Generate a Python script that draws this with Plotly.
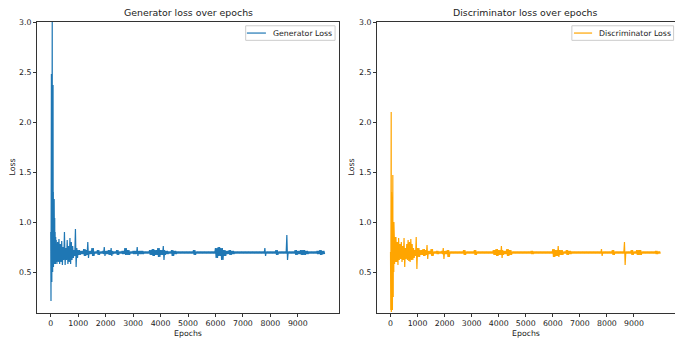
import plotly.graph_objects as go

# ---------------- data ----------------
epochs_total = 10000

# Generator: early detailed values (epochs 0-195)
gen_early_epochs = [0, 5, 10, 15, 20, 25, 30, 35, 40, 45, 50, 55, 60, 65, 70, 75, 80, 85, 90, 95,
                    100, 105, 110, 115, 120, 125, 130, 135, 140, 145, 150, 160, 170, 180, 190]
gen_early_vals = [0.90, 2.48, 0.21, 1.60, 0.50, 2.48, 0.60, 1.80, 0.40, 2.00, 0.55, 3.10, 0.60, 2.20,
                  0.50, 1.50, 0.55, 2.37, 0.60, 1.30, 0.55, 1.25, 0.60, 1.10, 0.60, 1.23, 0.62, 0.95,
                  0.58, 1.04, 0.60, 0.90, 0.58, 0.85, 0.60]
# Generator: noise envelope per segment (segment start epoch, upper, lower)
gen_seg_start = [200, 250, 300, 350, 400, 450, 500, 550, 600, 650, 700, 750, 800, 850, 900, 950,
                 1000, 1100, 1200, 1300, 1350, 1400, 1500, 1600, 1700, 1800, 1900, 1950, 2000, 2100,
                 2200, 2250, 2300, 2400, 2500, 2600, 2700, 2800, 2900, 3000, 3100, 3150, 3200, 3400,
                 3600, 3700, 3800, 3900, 4000, 4100, 4150, 4200, 4300, 4400, 4500, 4600, 5200, 5300,
                 6000, 6100, 6200, 6300, 6400, 6500, 6600, 6700, 7800, 7850, 8200, 8300, 8600, 8650,
                 8900, 9000, 9100, 9200, 9300, 9400, 9700, 9800, 9900]
gen_seg_hi = [0.82, 0.80, 0.83, 0.78, 0.81, 0.75, 0.90, 0.74, 0.82, 0.76, 0.84, 0.80, 0.76, 0.72, 0.93, 0.74,
              0.72, 0.71, 0.73, 0.72, 0.80, 0.71, 0.74, 0.705, 0.72, 0.705, 0.71, 0.75, 0.71, 0.72,
              0.74, 0.71, 0.705, 0.72, 0.705, 0.71, 0.74, 0.72, 0.705, 0.71, 0.71, 0.75, 0.71, 0.705,
              0.72, 0.73, 0.72, 0.74, 0.72, 0.76, 0.72, 0.71, 0.705, 0.72, 0.71, 0.705, 0.72, 0.705,
              0.74, 0.75, 0.74, 0.72, 0.71, 0.72, 0.71, 0.705, 0.74, 0.705, 0.72, 0.705, 0.87, 0.705,
              0.72, 0.71, 0.72, 0.72, 0.71, 0.705, 0.71, 0.72, 0.71]
gen_seg_lo = [0.58, 0.60, 0.58, 0.60, 0.57, 0.62, 0.57, 0.62, 0.58, 0.60, 0.58, 0.62, 0.64, 0.66, 0.55, 0.64,
              0.67, 0.68, 0.66, 0.67, 0.64, 0.68, 0.66, 0.684, 0.67, 0.684, 0.68, 0.66, 0.68, 0.67,
              0.66, 0.68, 0.684, 0.67, 0.684, 0.68, 0.67, 0.67, 0.684, 0.68, 0.68, 0.66, 0.68, 0.684,
              0.67, 0.66, 0.67, 0.65, 0.67, 0.62, 0.67, 0.68, 0.684, 0.66, 0.68, 0.684, 0.67, 0.684,
              0.64, 0.66, 0.62, 0.66, 0.68, 0.67, 0.68, 0.684, 0.66, 0.684, 0.67, 0.684, 0.62, 0.684,
              0.67, 0.68, 0.67, 0.67, 0.68, 0.684, 0.68, 0.67, 0.68]

# Discriminator: early detailed values (epochs 0-195)
disc_early_epochs = [0, 5, 10, 15, 20, 25, 30, 35, 40, 45, 50, 55, 60, 65, 70, 75, 80, 85, 90, 95,
                     100, 105, 110, 115, 120, 125, 130, 135, 140, 145, 150, 160, 170, 180, 190]
disc_early_vals = [0.70, 1.78, 0.12, 1.20, 0.15, 2.10, 0.10, 1.30, 0.12, 1.00, 0.10, 0.90, 0.15, 1.10,
                   0.12, 1.00, 0.20, 1.47, 0.30, 0.95, 0.25, 1.00, 0.40, 0.85, 0.50, 1.00, 0.50, 0.85,
                   0.55, 0.80, 0.58, 0.85, 0.60, 0.80, 0.60]
disc_seg_start = [200, 250, 300, 350, 400, 450, 500, 550, 600, 650, 700, 750, 800, 850, 900, 950,
                  1000, 1100, 1200, 1300, 1350, 1400, 1500, 1600, 1700, 1800, 1900, 1950, 2000, 2100,
                  2200, 2700, 2800, 3100, 3200, 3800, 3900, 4000, 4100, 4150, 4200, 4300, 4400, 4500,
                  5200, 5300, 6000, 6100, 6200, 6250, 6300, 6400, 6500, 6600, 6700, 7800, 7850, 8200,
                  8300, 8650, 8700, 8900, 9000, 9100, 9300, 9800, 9900]
disc_seg_hi = [0.85, 0.80, 0.84, 0.78, 0.80, 0.76, 0.84, 0.74, 0.78, 0.82, 0.80, 0.83, 0.78, 0.74, 0.72, 0.85,
               0.74, 0.72, 0.73, 0.72, 0.77, 0.71, 0.73, 0.705, 0.71, 0.705, 0.71, 0.74, 0.71, 0.72,
               0.705, 0.72, 0.705, 0.72, 0.705, 0.72, 0.73, 0.72, 0.76, 0.72, 0.71, 0.73, 0.72, 0.705,
               0.71, 0.705, 0.73, 0.72, 0.76, 0.72, 0.72, 0.705, 0.72, 0.71, 0.705, 0.73, 0.705, 0.72,
               0.705, 0.80, 0.705, 0.72, 0.705, 0.72, 0.705, 0.71, 0.705]
disc_seg_lo = [0.60, 0.57, 0.62, 0.63, 0.60, 0.62, 0.55, 0.63, 0.62, 0.61, 0.60, 0.62, 0.62, 0.64, 0.66, 0.53,
               0.65, 0.67, 0.66, 0.67, 0.63, 0.68, 0.66, 0.684, 0.68, 0.684, 0.68, 0.63, 0.68, 0.65,
               0.684, 0.67, 0.684, 0.67, 0.684, 0.67, 0.66, 0.67, 0.64, 0.67, 0.68, 0.66, 0.67, 0.684,
               0.68, 0.684, 0.65, 0.66, 0.65, 0.67, 0.67, 0.684, 0.67, 0.68, 0.684, 0.66, 0.684, 0.67,
               0.684, 0.57, 0.684, 0.67, 0.684, 0.67, 0.684, 0.68, 0.684]

x_tick_vals = [0, 1000, 2000, 3000, 4000, 5000, 6000, 7000, 8000, 9000]
y_tick_vals = [0.5, 1.0, 1.5, 2.0, 2.5, 3.0]
y_tick_text = ["0.5", "1.0", "1.5", "2.0", "2.5", "3.0"]


def build_series(early_ep, early_val, seg_start, seg_hi, seg_lo, end, step=25):
    xs = list(early_ep)
    ys = list(early_val)
    for i, s in enumerate(seg_start):
        e = seg_start[i + 1] if i + 1 < len(seg_start) else end
        t, k = s, 0
        while t < e:
            xs.append(t)
            ys.append(seg_hi[i] if k % 2 == 0 else seg_lo[i])
            t += step
            k += 1
    return xs, ys


gx, gy = build_series(gen_early_epochs, gen_early_vals, gen_seg_start, gen_seg_hi, gen_seg_lo, epochs_total)
dx, dy = build_series(disc_early_epochs, disc_early_vals, disc_seg_start, disc_seg_hi, disc_seg_lo, epochs_total)

# ---------------- figure ----------------
W, H = 675, 339
FONT = "DejaVu Sans"
TXT = "#222222"
GEN_C = "#1f77b4"
DIS_C = "#ffa500"
TICK_FS = 7.8
TITLE_FS = 9.4
LW = 1.2

fig = go.Figure()
fig.add_trace(go.Scatter(x=gx, y=gy, mode="lines", line=dict(color=GEN_C, width=LW),
                         xaxis="x", yaxis="y", showlegend=False, hoverinfo="skip"))
fig.add_trace(go.Scatter(x=dx, y=dy, mode="lines", line=dict(color=DIS_C, width=LW),
                         xaxis="x2", yaxis="y2", showlegend=False, hoverinfo="skip"))

ydom = [(H - 313) / H, (H - 22) / H]
xdom1 = [37 / W, 339 / W]
xdom2 = [377 / W, 674.5 / W]

axis_common = dict(showline=True, mirror=True, linecolor="#333333", linewidth=1,
                   ticks="outside", ticklen=3, tickwidth=0.8, tickcolor="#333333",
                   showgrid=False, zeroline=False, automargin=False,
                   tickfont=dict(family=FONT, size=TICK_FS, color=TXT))

xr = [-500, 10500]
yr = [0.09, 3.0]

fig.update_layout(
    width=W, height=H,
    margin=dict(l=0, r=0, t=0, b=0),
    paper_bgcolor="white", plot_bgcolor="white",
    showlegend=False,
    xaxis=dict(domain=xdom1, range=xr, tickvals=x_tick_vals, anchor="y", **axis_common),
    yaxis=dict(domain=ydom, range=yr, tickvals=y_tick_vals, ticktext=y_tick_text, anchor="x", **axis_common),
    xaxis2=dict(domain=xdom2, range=xr, tickvals=x_tick_vals, anchor="y2", **axis_common),
    yaxis2=dict(domain=ydom, range=yr, tickvals=y_tick_vals, ticktext=y_tick_text, anchor="x2", **axis_common),
)

annotations = []
shapes = []
panels = [
    ("x", "y", xdom1, "Generator loss over epochs", "Generator Loss", GEN_C,
     (0.691, 0.987), (0.695, 0.758), 0.775, 12),
    ("x2", "y2", xdom2, "Discriminator loss over epochs", "Discriminator Loss", DIS_C,
     (0.655, 0.997), (0.662, 0.723), 0.738, 351),
]
for xa, ya, dom, title, label, col, box, samp, txt_x, loss_x in panels:
    cx = (dom[0] + dom[1]) / 2
    annotations.append(dict(text=title, x=cx, y=(H - 13) / H, xref="paper", yref="paper",
                            xanchor="center", yanchor="middle", showarrow=False,
                            font=dict(family=FONT, size=TITLE_FS, color=TXT)))
    annotations.append(dict(text="Epochs", x=cx, y=(H - 333) / H, xref="paper", yref="paper",
                            xanchor="center", yanchor="middle", showarrow=False,
                            font=dict(family=FONT, size=TICK_FS, color=TXT)))
    annotations.append(dict(text="Loss", x=loss_x / W, y=(ydom[0] + ydom[1]) / 2, xref="paper", yref="paper",
                            xanchor="center", yanchor="middle", showarrow=False, textangle=-90,
                            font=dict(family=FONT, size=TICK_FS, color=TXT)))
    # legend
    shapes.append(dict(type="rect", xref=f"{xa} domain", yref=f"{ya} domain",
                       x0=box[0], x1=box[1], y0=0.937, y1=0.987,
                       line=dict(color="#cccccc", width=1), fillcolor="rgba(255,255,255,0.8)"))
    shapes.append(dict(type="line", xref=f"{xa} domain", yref=f"{ya} domain",
                       x0=samp[0], x1=samp[1], y0=0.962, y1=0.962,
                       line=dict(color=col, width=LW)))
    annotations.append(dict(text=label, x=txt_x, y=0.962, xref=f"{xa} domain", yref=f"{ya} domain",
                            xanchor="left", yanchor="middle", showarrow=False,
                            font=dict(family=FONT, size=TICK_FS, color=TXT)))

fig.update_layout(annotations=annotations, shapes=shapes)
fig.write_html("out.html")
